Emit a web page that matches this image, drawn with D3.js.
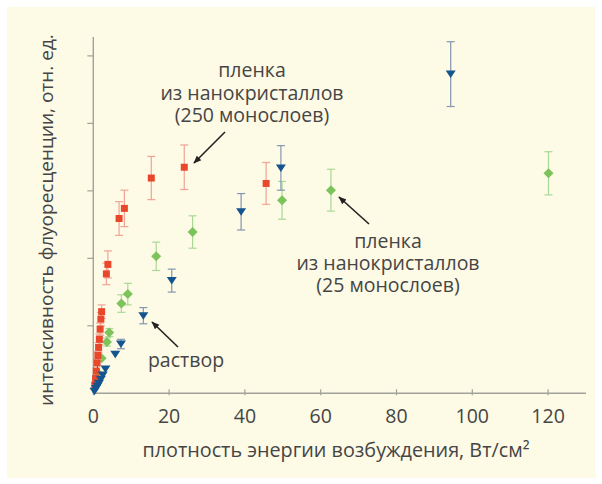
<!DOCTYPE html>
<html><head><meta charset="utf-8">
<script src="https://cdn.jsdelivr.net/npm/d3@7/dist/d3.min.js"></script>
<style>
html,body{margin:0;padding:0;background:#fff;}
svg{display:block;font-family:"Open Sans",sans-serif;}
</style></head>
<body>
<svg id="chart" width="602" height="484"></svg>
<script>
// Series: 250-monolayer film (red squares)
const redX   = [0.4, 0.6, 0.8, 1.0, 1.2, 1.4, 1.6, 1.8, 2.0, 2.2, 3.45, 3.85, 6.8, 8.2, 15.3, 24.0, 45.6];
const redY   = [0.12, 0.22, 0.33, 0.45, 0.56, 0.68, 0.8, 0.95, 1.1, 1.21, 1.77, 1.91, 2.59, 2.74, 3.19, 3.35, 3.11];
const redErr = [0.02, 0.03, 0.04, 0.05, 0.06, 0.07, 0.08, 0.09, 0.1, 0.1, 0.16, 0.2, 0.25, 0.27, 0.32, 0.33, 0.31];
// Series: 25-monolayer film (green diamonds)
const greenX   = [0.7, 1.2, 2.2, 3.6, 4.2, 7.4, 9.1, 16.6, 26.2, 49.8, 62.7, 120.1];
const greenY   = [0.15, 0.3, 0.52, 0.76, 0.9, 1.33, 1.47, 2.03, 2.39, 2.86, 3.01, 3.26];
const greenErr = [0.02, 0.03, 0.05, 0.06, 0.06, 0.13, 0.16, 0.21, 0.24, 0.28, 0.31, 0.32];
// Series: solution (blue triangles)
const blueX   = [0.3, 0.7, 1.1, 1.5, 2.0, 2.5, 3.2, 5.8, 7.3, 13.2, 20.7, 39.0, 49.5, 94.3];
const blueY   = [0.03, 0.07, 0.11, 0.15, 0.21, 0.27, 0.36, 0.58, 0.73, 1.15, 1.67, 2.69, 3.34, 4.73];
const blueErr = [0.01, 0.01, 0.01, 0.02, 0.02, 0.03, 0.03, 0.05, 0.07, 0.12, 0.17, 0.27, 0.33, 0.48];
// Axis ticks
const xTicks = [0, 20, 40, 60, 80, 100, 120];
const yTicks = [1, 2, 3, 4, 5];
const xTitle = "плотность энергии возбуждения, Вт/см²";
const yTitle = "интенсивность флуоресценции, отн. ед.";
const labelFilm250 = ["пленка", "из нанокристаллов", "(250 монослоев)"];
const labelFilm25  = ["пленка", "из нанокристаллов", "(25 монослоев)"];
const labelSol = "раствор";

const svg = d3.select("#chart");
svg.append("rect").attr("x",7).attr("y",7).attr("width",588).attr("height",471).attr("fill","#fdfae6");

const x = d3.scaleLinear().domain([0,130]).range([93.3,586]);
const y = d3.scaleLinear().domain([0,5.28]).range([393.3,37]);
const axisCol = "#a3a29a", textCol = "#454545";

// axes
svg.append("line").attr("x1",x(0)).attr("x2",x(130)).attr("y1",y(0)).attr("y2",y(0)).attr("stroke",axisCol).attr("stroke-width",1.4);
svg.append("line").attr("x1",x(0)).attr("x2",x(0)).attr("y1",y(0)).attr("y2",y(5.28)).attr("stroke",axisCol).attr("stroke-width",1.4);
svg.selectAll(".xt").data(xTicks).enter().append("line").attr("x1",d=>x(d)).attr("x2",d=>x(d)).attr("y1",y(0)-4).attr("y2",y(0)+2).attr("stroke",axisCol).attr("stroke-width",1.2);
svg.selectAll(".yt").data(yTicks).enter().append("line").attr("x1",x(0)-6).attr("x2",x(0)).attr("y1",d=>y(d)).attr("y2",d=>y(d)).attr("stroke",axisCol).attr("stroke-width",1.2);
svg.selectAll(".xl").data(xTicks).enter().append("text").attr("x",d=>x(d)).attr("y",423).attr("text-anchor","middle")
  .attr("font-size",19.5).attr("fill",textCol).text(d=>d);
svg.append("text").attr("x",336).attr("y",457).attr("text-anchor","middle").attr("font-size",19.8).attr("fill",textCol).text(xTitle);
svg.append("text").attr("transform","translate(53,220) rotate(-90)").attr("text-anchor","middle").attr("font-size",19).attr("fill",textCol).text(yTitle);

// thin dark line near origin
svg.append("line").attr("x1",x(0.4)).attr("y1",y(0)).attr("x2",x(1.9)).attr("y2",y(0.85)).attr("stroke","#333").attr("stroke-width",1);

function series(xs, ys, es, errCol, col, shape){
  const data = xs.map((d,i)=>({x:d,y:ys[i],e:es[i]}));
  const g = svg.append("g");
  const eb = g.selectAll(".eb").data(data).enter().append("g").attr("stroke",errCol).attr("stroke-width",1.2);
  eb.append("line").attr("x1",d=>x(d.x)).attr("x2",d=>x(d.x)).attr("y1",d=>y(d.y-d.e)).attr("y2",d=>y(d.y+d.e));
  eb.filter(d=>d.e>0.05).append("line").attr("x1",d=>x(d.x)-4).attr("x2",d=>x(d.x)+4).attr("y1",d=>y(d.y+d.e)).attr("y2",d=>y(d.y+d.e));
  eb.filter(d=>d.e>0.05).append("line").attr("x1",d=>x(d.x)-4).attr("x2",d=>x(d.x)+4).attr("y1",d=>y(d.y-d.e)).attr("y2",d=>y(d.y-d.e));
  g.selectAll(".m").data(data).enter().append("path")
    .attr("transform",d=>`translate(${x(d.x)},${y(d.y)})`)
    .attr("d",shape).attr("fill",col);
}
const sq = "M-3.5,-3.5H3.5V3.5H-3.5Z";
const dia = "M0,-5L5,0L0,5L-5,0Z";
const tri = "M-5,-3.5H5L0,4Z";
series(greenX, greenY, greenErr, "#a9d996", "#7cc35b", dia);
series(redX, redY, redErr, "#f2a395", "#e8472b", sq);
series(blueX, blueY, blueErr, "#8397b0", "#15558f", tri);

// annotations
function multi(lines, cx, by, lh){
  const t = svg.append("text").attr("text-anchor","middle").attr("font-size",19.5).attr("fill",textCol);
  lines.forEach((s,i)=>t.append("tspan").attr("x",cx).attr("y",by+i*lh).text(s));
}
multi(labelFilm250, 252, 77, 22.5);
multi(labelFilm25, 388, 248, 22);
svg.append("text").attr("x",186).attr("y",367).attr("text-anchor","middle").attr("font-size",19.5).attr("fill",textCol).text(labelSol);

svg.append("defs").append("marker").attr("id","ah").attr("viewBox","0 0 10 10").attr("refX",9).attr("refY",5)
  .attr("markerWidth",8).attr("markerHeight",8).attr("markerUnits","userSpaceOnUse").attr("orient","auto")
  .append("path").attr("d","M0,1L10,5L0,9Z").attr("fill","#222");
function arrow(x1,y1,x2,y2){
  svg.append("line").attr("x1",x1).attr("y1",y1).attr("x2",x2).attr("y2",y2).attr("stroke","#222").attr("stroke-width",1.6).attr("marker-end","url(#ah)");
}
arrow(225,132,194,163);
arrow(369,224,339,197);
arrow(178,347,152,322);
</script>
</body></html>
